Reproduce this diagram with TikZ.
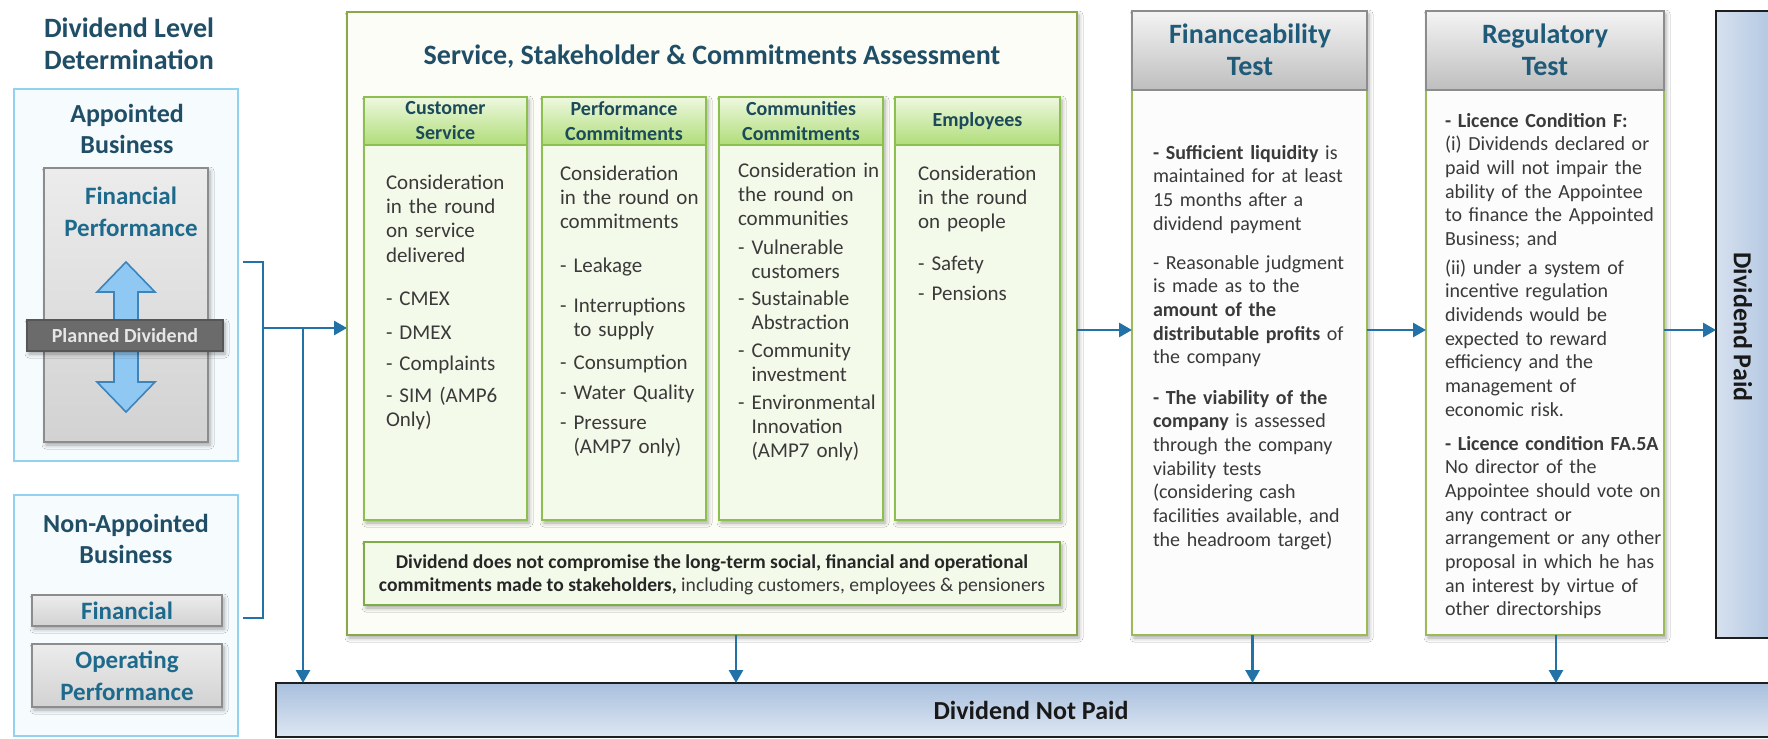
\documentclass[tikz,border=0pt]{standalone}
\usepackage{fontspec}
\setmainfont{Carlito}
\usetikzlibrary{fit,arrows.meta,shadows.blur}
\definecolor{ttl}{HTML}{1F4E66}
\definecolor{tealmid}{HTML}{1E6A8C}
\definecolor{hdtxt}{HTML}{1C4A5A}
\definecolor{arrowblue}{HTML}{2272A8}
\definecolor{skyborder}{HTML}{92D2F0}
\definecolor{skyfill}{HTML}{F6FBFE}
\definecolor{graybd}{HTML}{8C8C8C}
\definecolor{grtop}{HTML}{ECECEC}
\definecolor{grbot}{HTML}{D2D2D2}
\definecolor{pdfill}{HTML}{6B6B6B}
\definecolor{pdtxt}{HTML}{E6E6E6}
\definecolor{dblfill}{HTML}{8FC8F3}
\definecolor{dblbd}{HTML}{3D84BB}
\definecolor{olive}{HTML}{8AA84A}
\definecolor{mainfill}{HTML}{FBFDF6}
\definecolor{colbd}{HTML}{8DBF50}
\definecolor{colfill}{HTML}{F4FAEA}
\definecolor{hdrtop}{HTML}{EEF8E0}
\definecolor{hdrbot}{HTML}{B0DD78}
\definecolor{bodytxt}{HTML}{3A3A3A}
\definecolor{testbd}{HTML}{9BBB59}
\definecolor{testfill}{HTML}{FCFCFC}
\definecolor{testhdtop}{HTML}{F4F4F4}
\definecolor{testhdbot}{HTML}{BEBEBE}
\definecolor{testttl}{HTML}{1F5A78}
\definecolor{bluelt}{HTML}{D6E1EF}
\definecolor{bluedk}{HTML}{A8BFDD}
\definecolor{darkbd}{HTML}{1E1E1E}
\newcommand\fTitle{\fontsize{14}{16}\selectfont\bfseries}
\newcommand\fHd{\fontsize{13}{15.5}\selectfont\bfseries}
\newcommand\fFP{\fontsize{12.5}{16}\selectfont\bfseries}
\newcommand\fBody{\fontsize{10.5}{12.2}\selectfont}
\newcommand\fTest{\fontsize{10}{11.85}\selectfont}
\newcommand\fColH{\fontsize{10}{12.5}\selectfont\bfseries}
\newcommand\fComm{\fontsize{9.8}{11.6}\selectfont}
\newcommand\dsh{\makebox[6.8pt][l]{-}}
\newcommand\hng{\hspace*{6.8pt}}
\begin{document}
\begin{tikzpicture}[x=0.5pt,y=-0.5pt,
  every node/.style={inner sep=0pt, outer sep=0pt},
  shd/.style={blur shadow={shadow xshift=1pt, shadow yshift=-1.5pt, shadow blur radius=2pt, shadow opacity=35}},
  conn/.style={draw=arrowblue, line width=1.4pt},
  arr/.style={conn, -{Triangle[length=6.5pt,width=7pt]}},
  skybox/.style={draw=skyborder, fill=skyfill, line width=1.3pt},
  graybox/.style={draw=graybd, line width=1.1pt, top color=grtop, bottom color=grbot, shd},
  pdbar/.style={draw=pdfill!80!black, fill=pdfill, line width=0.8pt, shd},
  mainbox/.style={draw=olive, fill=mainfill, line width=1.3pt, shd},
  colbody/.style={draw=colbd, fill=colfill, line width=1.1pt, shd},
  colhead/.style={draw=colbd, line width=1.1pt, top color=hdrtop, bottom color=hdrbot},
  commbox/.style={draw=colbd!90!black, fill=colfill, line width=1.1pt, shd},
  testbody/.style={draw=testbd, fill=testfill, line width=1.1pt, shd},
  testhead/.style={draw=graybd, line width=1.1pt, top color=testhdtop, bottom color=testhdbot},
  bluev/.style={draw=darkbd, line width=1.1pt, left color=bluelt, right color=bluedk},
  blueh/.style={draw=darkbd, line width=1.1pt, top color=bluedk, bottom color=bluelt!80!white},
  ttltext/.style={font=\fTitle, text=ttl, align=center},
  hdtext/.style={font=\fHd, text=ttl, align=center},
  fptext/.style={font=\fFP, text=tealmid, align=center},
  colhtext/.style={font=\fColH, text=hdtxt, align=center},
  testttltext/.style={font=\fTitle, text=testttl, align=center},
  para/.style={anchor=base west, text width=85pt, align=left, font=\fBody, text=bodytxt},
  tpara/.style={anchor=base west, text width=115pt, align=left, font=\fTest, text=bodytxt},
]
\clip (0,0) rectangle (1768,739);
\useasboundingbox (0,0) rectangle (1768,739);
\fill[white] (0,0) rectangle (1768,739);

% ---------- left column ----------
\node[ttltext] (dld) at (129,44) {Dividend Level\\Determination};

\node[skybox, fit={(14,89)(238,461)}] (app) {};
\node[hdtext] (apptxt) at (127,129) {Appointed\\Business};
\node[graybox, fit={(44,168)(208,442)}] (fp) {};
\node[fptext] (fptxt) at (131,212) {Financial\\Performance};
\draw[fill=dblfill, draw=dblbd, line width=0.8pt, line join=miter]
  (126,262) -- (155,292) -- (138,292) -- (138,382) -- (155,382) -- (126,412)
  -- (97,382) -- (114,382) -- (114,292) -- (97,292) -- cycle;
\node[pdbar, fit={(27,320)(223,351)}] (pd) {};
\node[font=\fontsize{10}{12}\selectfont\bfseries, text=pdtxt] (pdtxt) at (pd.center) {Planned Dividend};

\node[skybox, fit={(14,495)(238,736)}] (nap) {};
\node[hdtext] (naptxt) at (126,539) {Non-Appointed\\Business};
\node[graybox, fit={(32,595)(222,626)}] (napfin) {};
\node[fptext] (napfintxt) at (napfin.center) {Financial};
\node[graybox, fit={(32,644)(222,707)}] (napop) {};
\node[fptext] (napoptxt) at (napop.center) {Operating\\Performance};

% ---------- main assessment box ----------
\node[mainbox, fit={(347,12)(1077,635)}] (main) {};
\node[font=\fTitle, text=ttl] (maintitle) at (712,57) {Service, Stakeholder \& Commitments Assessment};

\node[colbody, fit={(364,97)(527,520)}] (c1) {};
\node[colhead, fit={(364,97)(527,145)}] (c1h) {};
\node[colhtext] (c1ht) at (c1h.center) {Customer\\Service};
\node[colbody, fit={(542,97)(706,520)}] (c2) {};
\node[colhead, fit={(542,97)(706,145)}] (c2h) {};
\node[colhtext] (c2ht) at (c2h.center) {Performance\\Commitments};
\node[colbody, fit={(719,97)(883,520)}] (c3) {};
\node[colhead, fit={(719,97)(883,145)}] (c3h) {};
\node[colhtext] (c3ht) at (c3h.center) {Communities\\Commitments};
\node[colbody, fit={(895,97)(1060,520)}] (c4) {};
\node[colhead, fit={(895,97)(1060,145)}] (c4h) {};
\node[colhtext] (c4ht) at (c4h.center) {Employees};

\node[para] (c1p1) at (386,189) {Consideration\\in the round\\on service\\delivered};
\node[para] (c1p2) at (386,305) {- CMEX};
\node[para] (c1p3) at (386,339) {- DMEX};
\node[para] (c1p4) at (386,370) {- Complaints};
\node[para] (c1p5) at (386,402) {- SIM (AMP6\\Only)};

\node[para] (c2p1) at (560,180) {Consideration\\in the round on\\commitments};
\node[para] (c2p2) at (560,272) {\dsh Leakage};
\node[para] (c2p3) at (560,312) {\dsh Interruptions\\\hng to supply};
\node[para] (c2p4) at (560,369) {\dsh Consumption};
\node[para] (c2p5) at (560,399) {\dsh Water Quality};
\node[para] (c2p6) at (560,429) {\dsh Pressure\\\hng (AMP7 only)};

\node[para] (c3p1) at (738,177) {Consideration in\\the round on\\communities};
\node[para] (c3p2) at (738,254) {\dsh Vulnerable\\\hng customers};
\node[para] (c3p3) at (738,305) {\dsh Sustainable\\\hng Abstraction};
\node[para] (c3p4) at (738,357) {\dsh Community\\\hng investment};
\node[para] (c3p5) at (738,409) {\dsh Environmental\\\hng Innovation\\\hng (AMP7 only)};

\node[para] (c4p1) at (918,180) {Consideration\\in the round\\on people};
\node[para] (c4p2) at (918,270) {\dsh Safety};
\node[para] (c4p3) at (918,300) {\dsh Pensions};

\node[commbox, fit={(364,542)(1060,605)}] (comm) {};
\node[font=\fComm, text=black!85, align=center] (commtxt) at (712,575)
  {\bfseries Dividend does not compromise the long-term social, financial and operational\\
   {\bfseries commitments made to stakeholders,}\ \textcolor{bodytxt}{including customers, employees \& pensioners}};

% ---------- financeability test ----------
\node[testbody, fit={(1132,11)(1367,635)}] (fin) {};
\node[testhead, fit={(1132,11)(1367,90)}] (finh) {};
\node[testttltext] (finttl) at (1250,50) {Financeability\\Test};
\node[tpara] (fp1) at (1153,159) {\textbf{- Sufficient liquidity} is\\maintained for at least\\15 months after a\\dividend payment};
\node[tpara] (fp2) at (1153,269) {- Reasonable judgment\\is made as to the\\\textbf{amount of the}\\\textbf{distributable profits} of\\the company};
\node[tpara] (fp3) at (1153,404) {\textbf{- The viability of the}\\\textbf{company} is assessed\\through the company\\viability tests\\(considering cash\\facilities available, and\\the headroom target)};

% ---------- regulatory test ----------
\node[testbody, fit={(1426,11)(1664,635)}] (reg) {};
\node[testhead, fit={(1426,11)(1664,90)}] (regh) {};
\node[testttltext] (regttl) at (1545,50) {Regulatory\\Test};
\node[tpara] (rp1) at (1445,127) {\textbf{- Licence Condition F:}\\(i) Dividends declared or\\paid will not impair the\\ability of the Appointee\\to finance the Appointed\\Business; and};
\node[tpara] (rp2) at (1445,274) {(ii) under a system of\\incentive regulation\\dividends would be\\expected to reward\\efficiency and the\\management of\\economic risk.};
\node[tpara] (rp3) at (1445,450) {\textbf{- Licence condition FA.5A}\\No director of the\\Appointee should vote on\\any contract or\\arrangement or any other\\proposal in which he has\\an interest by virtue of\\other directorships};

% ---------- outcomes ----------
\node[bluev, fit={(1716,11)(1790,638)}] (paid) {};
\node[font=\fHd, text=black!90, rotate=-90] (paidtxt) at (1743,327) {Dividend Paid};
\node[blueh, fit={(276,683)(1790,737)}] (notpaid) {};
\node[font=\fHd, text=black!90] (notpaidtxt) at (1031,710) {Dividend Not Paid};

% ---------- connectors ----------
\coordinate (brTop) at (263,262);
\coordinate (brBot) at (263,618);
\coordinate (brMid) at (263,328);
\coordinate (vjoin) at (303,328);
\coordinate (row) at (0,330);
\draw[conn, line join=miter] ([xshift=2.5pt]app.east |- brTop) -- (brTop) -- (brBot) -- ([xshift=2.5pt]app.east |- brBot);
\draw[arr] (brMid) -- (main.west |- brMid);
\draw[arr] (vjoin) -- (vjoin |- notpaid.north);
\draw[arr] (main.east |- row) -- (fin.west |- row);
\draw[arr] (fin.east |- row) -- (reg.west |- row);
\draw[arr] (reg.east |- row) -- (paid.west |- row);
\draw[arr] ([xshift=12pt]main.south) -- ([xshift=12pt]main.south |- notpaid.north);
\draw[arr] ([xshift=1.5pt]fin.south) -- ([xshift=1.5pt]fin.south |- notpaid.north);
\draw[arr] ([xshift=5.5pt]reg.south) -- ([xshift=5.5pt]reg.south |- notpaid.north);
\end{tikzpicture}
\end{document}
